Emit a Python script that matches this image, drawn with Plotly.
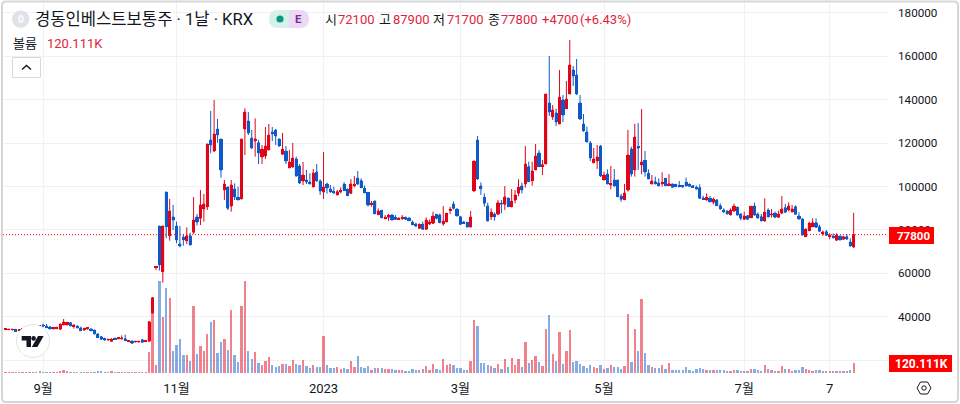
import plotly.graph_objects as go

FONT = "Roboto, 'Noto Sans CJK KR', sans-serif"
UP_RED = "#e0061a"
DOWN_BLUE = "#1059c9"
TAG_RED = "#ff0000"
TEXT_DARK = "#131722"
VALUE_RED = "#e0243a"
GRID = "#f0f1f5"

highs_a = [34400,34340,34340,34180,33880,34500,34650,35100,35410,35500,35900,36790,36640,35720,34950,35410,36640,38950,37560,37560,36640,35870,35410,34950,34950,34640,34180,32340,31110,30340,29730,30040,30340,30500,31420,31730,29270,28960,28650,28650,29570,28810,37900,48900,63060]
tops_a = [34340,34180,34180,34180,33880,34490,34640,35100,35410,35410,35870,36180,35720,35260,34800,34800,36640,37560,37410,37250,36030,35720,34800,34490,34800,34340,33720,32030,30800,29880,29570,29730,30040,30340,30190,29880,28960,28810,28650,28650,29420,28810,37700,48820,63060]
bottoms_a = [34030,34030,33880,33270,33570,33880,34180,34650,34950,35100,35410,35720,35100,34340,34340,34490,34180,36180,36180,35720,35570,34800,33570,33880,34340,33570,32030,30340,29570,29270,29270,28650,29570,29880,29730,28960,28500,27730,28350,28350,28190,28500,28650,41710,62600]
lows_a = [34000,34000,33880,33270,33570,33880,34180,34650,34950,35100,35410,35100,34640,34340,34340,34340,34180,36180,36180,35720,34490,34800,33570,33570,34180,33570,32030,30340,29570,28960,28960,28500,29270,29570,29570,28960,28350,27580,28190,28190,28190,28350,28650,41500,61530]
flags_a = "RRRBRRBRRB" "RBBBRRRRRB" "RBBRRBBBBB" "RRBRRBRBRR" "BRRRR"

highs_b = [81800,81800,97470,94240,91480,83800,81800,78100,81200,78700,95170,87330,98390,96550,119590,134790,139860,131100,121890,103000,99930,103000,101460,99930,121890,136020,134330,126040,131410,121430,119130,127420,128800,127420,126500,122050,124660,118670,116820,120050,113750,110370,111290,107600,106070,108070,110370,103300,115900,101770,100690,99930,98390]
tops_b = [81800,81800,97470,88700,85950,81800,73510,76700,77350,77350,84570,85950,91480,91940,119590,121430,124200,126500,121890,101150,99770,100690,98850,95010,121890,134330,130190,122350,121890,120200,117280,118670,123730,125120,126040,121890,117130,116360,111290,113140,112670,109450,105300,103000,102080,106220,106690,102540,99770,101160,98850,97470,97620]
bottoms_b = [63830,60760,81500,77350,84570,75350,72590,75800,75040,73050,78880,83650,85330,89640,90710,119130,116360,123730,107600,98390,89940,91020,95170,93780,94240,126500,124660,117740,120970,115440,113600,114060,116820,124200,123270,118670,114830,111750,108680,108990,104840,101620,102540,102080,101160,99770,102540,97930,97470,99310,97470,97010,96090]
lows_b = [61220,55690,76100,75040,79960,73810,71970,72740,73510,73050,78120,82110,82260,83800,89170,115290,115900,120200,104070,93780,89170,88400,93780,93780,94240,114520,123730,117280,113750,110370,110370,112670,116820,120970,119130,118360,114520,110370,108370,108680,104530,101160,100690,101160,101160,99770,102230,96090,94240,96700,97160,97010,96090]
flags_b = "BRBRBBBBRB" "RBRRRBRBBR" "BRBBRRBBRB" "RRRBBBRBRR" "BBRBBRBBRB" "BBR"

highs_c = [99600,102000,99100,103450,104800,107100,103750,100500,97300,93300,93450,89900,89150,86850,87300,87300,86850,85800,86850,86100,85800,84400,83300,83000,83800,85800,84850,88400,87300,87600,91000,87900,90700,93150,89900,86400,84100,83650,88700]
tops_c = [98100,101000,98700,101150,101000,103750,102700,99150,97300,92250,93300,88700,89000,85800,86850,86850,85800,85300,85800,85800,85500,83600,82700,82550,82550,84550,83650,86400,87150,86850,84100,87600,89450,91900,89600,86100,83650,83500,85950]
bottoms_c = [97500,98100,95800,96850,100500,101150,99450,97150,91450,91800,87450,87000,85600,85200,85800,84550,84850,84850,85300,84850,84250,82400,81800,80700,80250,80250,82700,83000,85300,83300,82700,83650,89150,89900,86400,82550,83000,81300,81300]
lows_c = [96850,98000,95800,96500,99600,100700,99450,96850,90700,90700,87450,86850,85600,84850,84100,84550,84550,84550,84550,84700,84250,82250,81300,80400,79950,79950,82250,82700,84850,83300,81950,83650,87300,89450,86400,82250,83000,81300,81300]
flags_c = "RBBRRBBBBR" "BRBRRBBRRB" "BBBRBRRRBB" "RRRBBBBBR"

highs_d = [111760,123280,101920,96860,92560,89950,87950,93780,93780,100240,95010,98850,98390,103310,101770,118670,111450,111450,119590,116820,112220,142630,160140,137560,135870,153690,142170,148620,167510,155530,158760,142170,133410,127580,120970,117750,119130,119130,106840,107910,109450,108070,103000,96550,101160,126040,118360,128800,129270,135720,116360,107910,105300,104540,103770]
tops_d = [111760,121430,100240,95010,91020,88100,87330,92550,92250,95170,94550,93170,96090,99620,100240,110370,109140,107150,114060,115440,110070,142630,138480,135260,133870,141240,139860,140320,156000,153690,151380,138480,128810,125120,120050,112680,113600,118670,105300,105770,101160,103000,103000,95630,97010,114520,117290,122810,118210,111290,112060,106070,102540,102230,101620]
bottoms_d = [97930,103460,99010,92250,84260,86100,86100,87180,91940,91790,90710,90710,93780,96860,98390,101160,102230,102690,107610,109140,109140,110370,134330,132030,129730,128800,132950,135870,142630,150920,142630,131110,125580,120510,113140,110990,111760,104840,103000,101160,100700,100240,95320,94090,93940,98390,105760,107610,117750,109910,106690,103460,101160,101160,100240]
lows_d = [97620,103000,96090,90710,83800,84570,84260,86870,87640,89180,90710,90400,92250,95630,96860,99470,102230,100390,107610,109140,105300,110370,132490,130650,127880,128800,129730,135870,142630,146320,142170,130650,125270,120510,111760,110680,108070,104380,103000,101160,98700,99930,95320,93020,93940,97620,104540,104540,107610,105610,104540,103460,101160,101160,100240]
flags_d = "RBBBBRBRBR" "BRRRBRBRRB" "RRBRBRBRRB" "BBBBBRRBRB" "RBBBRRBRBR" "BBRBB"

highs_e = [106530,103770,105760,101310,101160,102540,100540,104070,101460,100690,100390,101000,95780,96850,95630,94860,94240,92250,89940,89020,89940,92090,90710,87640,88410,86870,90860,92550,88100]
tops_e = [101920,103770,101310,101150,101000,100390,100390,101920,101000,100390,99620,99470,94700,95010,94550,94240,93780,91170,89170,88710,89170,90860,90400,87330,86410,86560,90860,91020,87180]
bottoms_e = [101310,100390,100390,99620,99930,99930,99770,100390,100080,99620,98850,94550,94090,93780,93010,92710,91170,89640,88410,87330,86870,88710,86870,85330,84870,84870,85640,86870,85640]
lows_e = [99930,100390,100390,99470,99770,99770,99620,99930,99770,99470,98540,94240,93780,93470,92710,91790,91170,89330,87790,87180,86870,88410,86560,84410,84570,84570,85640,86560,85030]
flags_e = "RBRBBBBBBB" "BBBRBRBBBB" "RRBBRBRBB"

highs_f = [87330,94550,89940,89640,88410,88870,95630,91940,92710,91480,91330,88100,85330,80730,83800,85330,85330,82410,79650,79960,78420,78420,78420,77500,77190,78120,76120,87900]
tops_f = [86100,88100,89170,87330,87640,87330,89640,90250,91020,89640,90710,86410,85030,80270,83030,83340,83340,81490,79040,79190,77500,77190,77650,77040,76890,76890,74430,77800]
bottoms_f = [84260,84100,86100,86870,85800,85800,87640,88100,89170,88410,87180,85030,77650,76890,79650,81490,81190,79340,78120,77500,76890,76580,75200,75350,75660,75810,72590,72100]
lows_f = [83800,83800,85640,85640,85640,85490,87330,87950,88560,87950,86870,84720,77500,76890,79650,81190,80880,79190,77350,77190,75660,75960,75040,75350,75660,75350,72280,71700]
flags_f = "BRBRBRRBRR" "BBBRRRBBRB" "RBRBRBBR"

volumes_k = [
    12,12,12,12,12,8,8,8,12,16,20,16,16,16,12,12,20,32,20,16,16,16,12,12,16,12,16,28,20,12,12,20,8,16,8,12,12,12,12,8,8,8,252,
    892,92,
    1100,672,1016,896,260,332,404,212,212,140,804,228,320,260,464,608,632,236,368,404,272,752,212,128,800,1100,260,164,248,116,92,140,188,92,68,80,104,104,80,152,104,92,152,80,56,92,68,68,
    440,92,56,56,68,44,56,44,140,68,200,68,56,80,32,56,56,56,48,48,44,32,32,32,20,20,44,32,32,44,80,32,104,44,32,164,92,104,92,56,56,32,32,140,632,560,116,116,92,80,56,104,44,164,68,176,92,164,68,368,116,152,200,128,80,524,692,224,140,488,104,260,512,128,140,104,80,56,92,68,56,92,44,56,92,68,68,44,80,704,128,524,260,
    892,236,92,68,56,56,92,44,116,32,32,32,32,68,32,20,44,56,44,36,32,32,32,32,32,20,20,32,32,20,20,20,44,44,32,20,92,44,32,20,20,80,44,44,20,32,32,68,44,32,20,32,32,20,20,20,20,20,20,20,20,32,120.111,
]

tick_positions = [11, 50, 93, 133, 175, 216, 241]
tick_labels = ["9월", "11월", "2023", "3월", "5월", "7월", "7"]
price_ticks = [20000, 40000, 60000, 80000, 100000, 120000, 140000, 160000, 180000]
last_close = 77800
legend_values = ["72100", "87900", "71700", "77800"]

highs = highs_a + highs_b + highs_c + highs_d + highs_e + highs_f
tops = tops_a + tops_b + tops_c + tops_d + tops_e + tops_f
bottoms = bottoms_a + bottoms_b + bottoms_c + bottoms_d + bottoms_e + bottoms_f
lows = lows_a + lows_b + lows_c + lows_d + lows_e + lows_f
flags = flags_a + flags_b + flags_c + flags_d + flags_e + flags_f
n = len(highs)
assert n == len(tops) == len(bottoms) == len(lows) == len(flags) == len(volumes_k), (
    len(highs), len(tops), len(bottoms), len(lows), len(flags), len(volumes_k))

opens = [b if f == "R" else t for f, t, b in zip(flags, tops, bottoms)]
closes = [t if f == "R" else b for f, t, b in zip(flags, tops, bottoms)]
index = list(range(n))

W, H = 960, 404
L, R, T, B = 3, 888, 3, 373


def px(x):
    return (x - L) / (R - L)


def py(y):
    return 1 - (y - T) / (B - T)


def path(cmds):
    out = []
    for c in cmds:
        if isinstance(c, str):
            out.append(c)
        else:
            out.append(f"{px(c[0]):.5f},{py(c[1]):.5f}")
    return " ".join(out)


def rect(x0, y0, x1, y1, color, line=None, layer="above"):
    return dict(type="rect", xref="paper", yref="paper", x0=px(x0), x1=px(x1), y0=py(y0), y1=py(y1),
                fillcolor=color, line=dict(width=1 if line else 0, color=line or color), layer=layer)


def circle(cx, cy, r, color, line=None):
    return dict(type="circle", xref="paper", yref="paper", x0=px(cx - r), x1=px(cx + r), y0=py(cy - r), y1=py(cy + r),
                fillcolor=color, line=dict(width=1 if line else 0, color=line or color), layer="above")


def poly(cmds, color=None, line=None, width=1):
    return dict(type="path", xref="paper", yref="paper", path=path(cmds), fillcolor=color or "rgba(0,0,0,0)",
                line=dict(width=width if line else 0, color=line or "rgba(0,0,0,0)"), layer="above")


def label(x, y, text, size=13, color=TEXT_DARK, anchor="left", bold=False):
    return dict(xref="paper", yref="paper", x=px(x), y=py(y), text=f"<b>{text}</b>" if bold else text, showarrow=False,
                xanchor=anchor, yanchor="middle", font=dict(family=FONT, size=size, color=color), borderpad=0, borderwidth=0)


volume_colors = ["rgba(224,6,26,0.5)" if f == "R" else "rgba(16,89,201,0.5)" for f in flags]
body_colors = [UP_RED if f == "R" else DOWN_BLUE for f in flags]

fig = go.Figure()
fig.add_trace(go.Bar(x=index, y=volumes_k, yaxis="y", marker=dict(color=volume_colors, line=dict(width=0)), width=0.68,
                     hoverinfo="skip", showlegend=False))
fig.add_trace(go.Candlestick(x=index, open=opens, high=highs, low=lows, close=closes, yaxis="y2", whiskerwidth=0,
                             increasing=dict(line=dict(color=UP_RED, width=1), fillcolor=UP_RED),
                             decreasing=dict(line=dict(color=DOWN_BLUE, width=1), fillcolor=DOWN_BLUE),
                             hoverinfo="skip", showlegend=False))
fig.add_trace(go.Bar(x=index, y=[t - b for t, b in zip(tops, bottoms)], base=bottoms, yaxis="y2", width=0.92,
                     marker=dict(color=body_colors, line=dict(width=0)), hoverinfo="skip", showlegend=False))

shapes = [
    dict(type="line", xref="paper", yref="y2", x0=0, x1=1, y0=last_close, y1=last_close,
         line=dict(color=TAG_RED, width=1, dash="1px,2px"), layer="above"),
    # TradingView mark
    circle(33, 341, 16.5, "#ffffff", "#e2e4ec"),
    poly(["M", (21.7, 336), "L", (31, 336), "L", (31, 347), "L", (26.5, 347), "L", (26.5, 340.5), "L", (21.7, 340.5), "Z"], TEXT_DARK),
    circle(33.6, 338.4, 2.3, TEXT_DARK),
    poly(["M", (43.6, 336), "L", (37.4, 347), "L", (31.8, 347), "L", (38, 336), "Z"], TEXT_DARK),
    # price tags
    rect(889, 227, 934, 244, TAG_RED),
    rect(889, 355, 952, 372, TAG_RED),
    # legend symbol + status pill
    circle(20.7, 19, 8.7, "#dfe2ea"),
    poly(["M", (278, 10), "L", (289, 10), "L", (289, 28), "L", (278, 28), "Q", (269, 28), (269, 19), "Q", (269, 10), (278, 10), "Z"], "#d7f0ea"),
    poly(["M", (289, 10), "L", (300, 10), "Q", (309, 10), (309, 19), "Q", (309, 28), (300, 28), "L", (289, 28), "Z"], "#ecd9f3"),
    circle(280, 19, 3.6, "#089981"),
    # collapse button
    rect(12.5, 57.5, 40.5, 77.5, "#ffffff", "#d6d8e0"),
    poly(["M", (22, 69.5), "L", (26.5, 65.5), "L", (31, 69.5)], None, TEXT_DARK, 1.4),
    # settings hexagon
    poly(["M", (917, 388), "L", (920.5, 382), "L", (927.5, 382), "L", (931, 388), "L", (927.5, 394), "L", (920.5, 394), "Z"], None, TEXT_DARK, 1),
    dict(type="circle", xref="paper", yref="paper", x0=px(921.8), x1=px(926.2), y0=py(385.8), y1=py(390.2),
         line=dict(color=TEXT_DARK, width=1), layer="above"),
    # outer frame
    poly(["M", (6, 1.5), "L", (954, 1.5), "Q", (958, 1.5), (958, 5.5), "L", (958, 398), "Q", (958, 402), (954, 402), "L", (6, 402),
          "Q", (2, 402), (2, 398), "L", (2, 5.5), "Q", (2, 1.5), (6, 1.5), "Z"], None, "#d6d6d6", 2),
]

annotations = [
    label(20.7, 19.5, "0", 10, "#ffffff", "center", True),
    label(35, 19, "경동인베스트보통주 · 1날 · KRX", 16.6),
    label(298, 19.5, "E", 11.5, "#7b2d9e", "center", True),
    label(325, 20, "시", 13), label(338, 20, legend_values[0], 13, VALUE_RED),
    label(379, 20, "고", 13), label(392.5, 20, legend_values[1], 13, VALUE_RED),
    label(433, 20, "저", 13), label(447, 20, legend_values[2], 13, VALUE_RED),
    label(488, 20, "종", 13), label(501, 20, legend_values[3], 13, VALUE_RED),
    label(541.5, 20, "+4700", 13, VALUE_RED),
    label(580, 20, "(+6.43%)", 13, VALUE_RED),
    label(13, 43.5, "볼륨", 13),
    label(47, 43.5, "120.111K", 13, VALUE_RED),
    label(913, 235.5, "77800", 11.5, "#ffffff", "center", True),
    label(921.5, 363.5, "120.111K", 12, "#ffffff", "center", True),
]

fig.update_layout(
    width=W, height=H,
    margin=dict(l=L, r=W - R, t=T, b=H - B, pad=0),
    plot_bgcolor="#ffffff", paper_bgcolor="#ffffff",
    showlegend=False, hovermode=False, bargap=0,
    font=dict(family=FONT, size=12, color=TEXT_DARK),
    xaxis=dict(range=[(L - 5.5) / 3.42, (R - 5.5) / 3.42], tickmode="array", tickvals=tick_positions, ticktext=tick_labels,
               showgrid=True, gridcolor=GRID, gridwidth=1, zeroline=False, showline=False, ticks="", rangeslider=dict(visible=False),
               tickfont=dict(family=FONT, size=13, color=TEXT_DARK), ticklabelstandoff=6),
    yaxis=dict(range=[0, 4440], visible=False, fixedrange=True),
    yaxis2=dict(range=[14060, 184560], overlaying="y", side="right", tickmode="array", tickvals=price_ticks,
                ticktext=[str(v) for v in price_ticks], showgrid=True, gridcolor=GRID, gridwidth=1, zeroline=False, showline=False,
                ticks="", tickfont=dict(family=FONT, size=11.7, color=TEXT_DARK), ticklabelstandoff=9),
    shapes=shapes, annotations=annotations,
)

fig.write_html("out.html", config=dict(displayModeBar=False),
               post_script="document.body.style.margin='0';document.body.style.overflow='hidden';")
